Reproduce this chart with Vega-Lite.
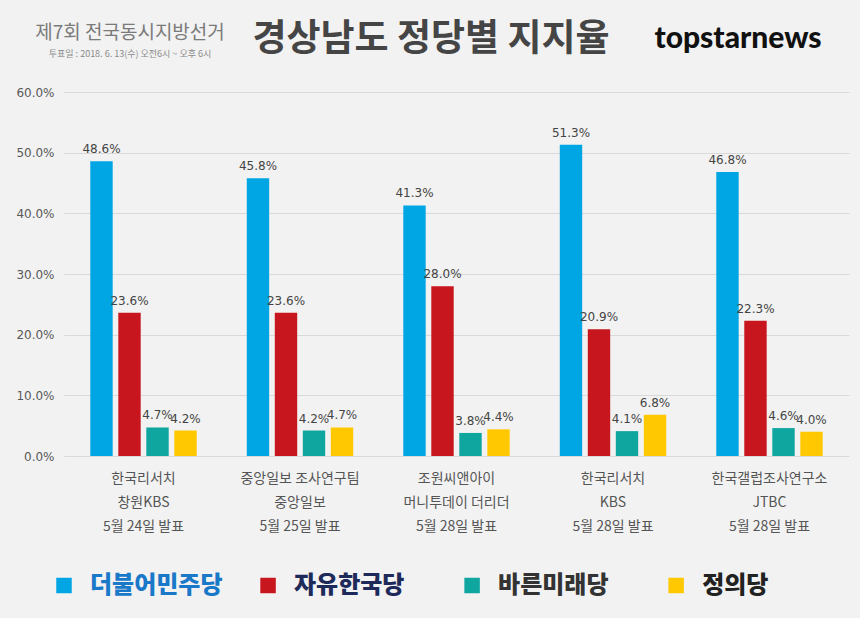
{
  "$schema": "https://vega.github.io/schema/vega-lite/v6.json",
  "background": "#f2f2f2",
  "padding": {"left": 15, "top": 0, "right": 0, "bottom": 0},
  "spacing": 0,
  "config": {"view": {"stroke": null}},
  "vconcat": [
    {
      "spacing": 0,
      "bounds": "flush",
      "hconcat": [
        {
          "width": 132,
          "height": 86,
          "data": {"values": [{"heading": "제7회 전국동시지방선거", "date": "투표일 : 2018. 6. 13(수) 오전6시 ~ 오후 6시"}]},
          "layer": [
            {"mark": {"type": "text", "font": "Noto Sans CJK KR", "fontSize": 19, "color": "#7a7a7a", "dy": -10}, "encoding": {"text": {"field": "heading"}}},
            {"mark": {"type": "text", "font": "Noto Sans CJK KR", "fontSize": 9, "color": "#8a8a8a", "dy": 11}, "encoding": {"text": {"field": "date"}}}
          ]
        },
        {
          "width": 470,
          "height": 86,
          "data": {"values": [{"title": "경상남도 정당별 지지율"}]},
          "mark": {"type": "text", "font": "Noto Sans CJK KR", "fontSize": 37, "fontWeight": "bold", "color": "#454545", "dy": -3},
          "encoding": {"text": {"field": "title"}}
        },
        {
          "width": 144,
          "height": 86,
          "data": {"values": [{"logo": "topstarnews"}]},
          "mark": {"type": "text", "font": "Lato", "fontSize": 30, "fontWeight": 900, "color": "#111111", "dy": -4},
          "encoding": {"text": {"field": "logo"}}
        }
      ]
    },
    {
      "width": 785,
      "height": 364,
      "data": {
        "values": [
          {"survey": "한국리서치\n창원KBS\n5월 24일 발표", "party": "더불어민주당", "share": 0.486},
          {"survey": "한국리서치\n창원KBS\n5월 24일 발표", "party": "자유한국당", "share": 0.236},
          {"survey": "한국리서치\n창원KBS\n5월 24일 발표", "party": "바른미래당", "share": 0.047},
          {"survey": "한국리서치\n창원KBS\n5월 24일 발표", "party": "정의당", "share": 0.042},
          {"survey": "중앙일보 조사연구팀\n중앙일보\n5월 25일 발표", "party": "더불어민주당", "share": 0.458},
          {"survey": "중앙일보 조사연구팀\n중앙일보\n5월 25일 발표", "party": "자유한국당", "share": 0.236},
          {"survey": "중앙일보 조사연구팀\n중앙일보\n5월 25일 발표", "party": "바른미래당", "share": 0.042},
          {"survey": "중앙일보 조사연구팀\n중앙일보\n5월 25일 발표", "party": "정의당", "share": 0.047},
          {"survey": "조원씨앤아이\n머니투데이 더리더\n5월 28일 발표", "party": "더불어민주당", "share": 0.413},
          {"survey": "조원씨앤아이\n머니투데이 더리더\n5월 28일 발표", "party": "자유한국당", "share": 0.280},
          {"survey": "조원씨앤아이\n머니투데이 더리더\n5월 28일 발표", "party": "바른미래당", "share": 0.038},
          {"survey": "조원씨앤아이\n머니투데이 더리더\n5월 28일 발표", "party": "정의당", "share": 0.044},
          {"survey": "한국리서치\nKBS\n5월 28일 발표", "party": "더불어민주당", "share": 0.513},
          {"survey": "한국리서치\nKBS\n5월 28일 발표", "party": "자유한국당", "share": 0.209},
          {"survey": "한국리서치\nKBS\n5월 28일 발표", "party": "바른미래당", "share": 0.041},
          {"survey": "한국리서치\nKBS\n5월 28일 발표", "party": "정의당", "share": 0.068},
          {"survey": "한국갤럽조사연구소\nJTBC\n5월 28일 발표", "party": "더불어민주당", "share": 0.468},
          {"survey": "한국갤럽조사연구소\nJTBC\n5월 28일 발표", "party": "자유한국당", "share": 0.223},
          {"survey": "한국갤럽조사연구소\nJTBC\n5월 28일 발표", "party": "바른미래당", "share": 0.046},
          {"survey": "한국갤럽조사연구소\nJTBC\n5월 28일 발표", "party": "정의당", "share": 0.040}
        ]
      },
      "encoding": {
        "x": {
          "field": "survey",
          "type": "nominal",
          "sort": null,
          "scale": {"paddingInner": 0.32, "paddingOuter": 0.168},
          "axis": {
            "title": null,
            "labelAngle": 0,
            "domain": false,
            "ticks": false,
            "labelFont": "Noto Sans CJK KR",
            "labelFontSize": 14,
            "labelColor": "#555555",
            "labelLineHeight": 24,
            "labelPadding": 15,
            "labelExpr": "split(datum.label, '\\n')"
          }
        },
        "xOffset": {
          "field": "party",
          "type": "nominal",
          "sort": ["더불어민주당", "자유한국당", "바른미래당", "정의당"],
          "scale": {"paddingInner": 0.2, "paddingOuter": 0}
        },
        "y": {
          "field": "share",
          "type": "quantitative",
          "scale": {"domain": [0, 0.6]},
          "axis": {
            "title": null,
            "values": [0, 0.1, 0.2, 0.3, 0.4, 0.5, 0.6],
            "format": ".1%",
            "domain": false,
            "ticks": false,
            "gridColor": "#d9d9d9",
            "labelFont": "DejaVu Sans",
            "labelFontSize": 12,
            "labelColor": "#595959",
            "labelPadding": 10
          }
        }
      },
      "layer": [
        {
          "mark": {"type": "bar"},
          "encoding": {
            "color": {
              "field": "party",
              "type": "nominal",
              "scale": {"domain": ["더불어민주당", "자유한국당", "바른미래당", "정의당"], "range": ["#00a6e4", "#c8161e", "#0fa6a0", "#ffc800"]},
              "legend": null
            }
          }
        },
        {
          "mark": {"type": "text", "font": "DejaVu Sans", "fontSize": 12, "color": "#444444", "baseline": "alphabetic", "dy": -8},
          "encoding": {"text": {"field": "share", "type": "quantitative", "format": ".1%"}}
        }
      ]
    },
    {
      "width": 797,
      "height": 85,
      "data": {"values": [{"party": "더불어민주당"}, {"party": "자유한국당"}, {"party": "바른미래당"}, {"party": "정의당"}]},
      "encoding": {
        "x": {
          "field": "party",
          "type": "nominal",
          "sort": ["더불어민주당", "자유한국당", "바른미래당", "정의당"],
          "scale": {"type": "point", "padding": 0.453, "align": 0},
          "axis": null
        }
      },
      "layer": [
        {
          "mark": {"type": "point", "shape": "square", "filled": true, "size": 240, "opacity": 1, "yOffset": 10},
          "encoding": {
            "color": {
              "field": "party",
              "type": "nominal",
              "scale": {"domain": ["더불어민주당", "자유한국당", "바른미래당", "정의당"], "range": ["#00a6e4", "#c8161e", "#0fa6a0", "#ffc800"]},
              "legend": null
            }
          }
        },
        {
          "mark": {"type": "text", "align": "left", "dx": 26, "dy": 10, "font": "Noto Sans CJK KR", "fontSize": 24, "fontWeight": 900},
          "encoding": {
            "text": {"field": "party"},
            "color": {
              "field": "party",
              "type": "nominal",
              "scale": {"domain": ["더불어민주당", "자유한국당", "바른미래당", "정의당"], "range": ["#1a78c8", "#1e2a5a", "#333333", "#222222"]},
              "legend": null
            }
          }
        }
      ],
      "resolve": {"scale": {"color": "independent"}}
    }
  ]
}
